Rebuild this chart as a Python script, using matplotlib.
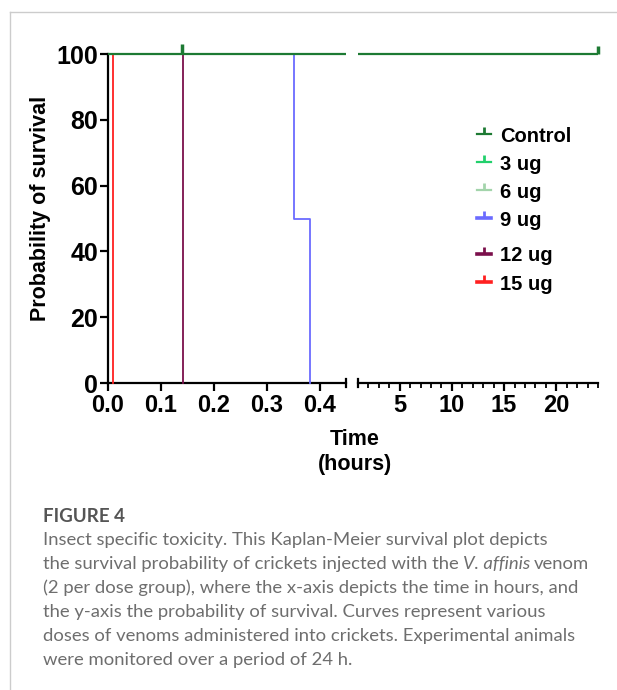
import matplotlib
matplotlib.use("Agg")
import matplotlib.pyplot as plt
from matplotlib.lines import Line2D

W, H = 617, 690

groups = ["Control", "3 ug", "6 ug", "9 ug", "12 ug", "15 ug"]
colors = ["#1d7a33", "#22d06c", "#a3d4ab", "#6b6bff", "#7b0f4b", "#ff2020"]

# Kaplan-Meier steps: time (hours) and survival (%)
t_control = [0, 24]
s_control = [100, 100]
t_3ug = [0, 24]
s_3ug = [100, 100]
t_6ug = [0, 24]
s_6ug = [100, 100]
t_9ug = [0, 0.352, 0.382]
s_9ug = [100, 50, 0]
t_12ug = [0, 0.141]
s_12ug = [100, 0]
t_15ug = [0, 0.01]
s_15ug = [100, 0]
censor_control = [0.14, 24]

y_ticks = [0, 20, 40, 60, 80, 100]
left_ticks = [0, 0.1, 0.2, 0.3, 0.4]
right_ticks = [5, 10, 15, 20]

curves = [(t_control, s_control), (t_3ug, s_3ug), (t_6ug, s_6ug),
          (t_9ug, s_9ug), (t_12ug, s_12ug), (t_15ug, s_15ug)]

plt.rcParams["font.family"] = ["Liberation Sans", "DejaVu Sans"]
plt.rcParams["font.weight"] = "bold"

fig = plt.figure(figsize=(W / 100, H / 100), dpi=100)


def px(x0, y_top, x1, y_bot):
    return [x0 / W, 1 - y_bot / H, (x1 - x0) / W, (y_bot - y_top) / H]


# y: 0 -> 383 px, 100 -> 54 px, ylim (-1, 102)
unit = (383 - 54) / 100
ax_top = 54 - 2 * unit
ax_bot = 383 + 1 * unit
axl = fig.add_axes(px(108, ax_top, 346, ax_bot))
axr = fig.add_axes(px(358, ax_top, 598, ax_bot))

for ax, xlim in [(axl, (0, 0.45)), (axr, (1, 24))]:
    ax.set_xlim(*xlim)
    ax.set_ylim(-1, 102)
    ax.patch.set_visible(False)
    for s in ["top", "right"]:
        ax.spines[s].set_visible(False)
    ax.spines["bottom"].set_position(("data", 0))
    ax.spines["bottom"].set_linewidth(1.6)
    ax.spines["bottom"].set_bounds(*xlim)
    # draw curves, control last so it sits on top
    for i in reversed(range(len(groups))):
        t, s = curves[i]
        ax.step(t, s, where="post", color=colors[i],
                lw=1.6 if i == 0 else 1.3, zorder=3 + (6 - i) * 0.1)
    ax.tick_params(axis="x", which="major", length=6, width=1.6,
                   labelsize=17, pad=2)
    ax.tick_params(axis="x", which="minor", length=3.5, width=1.3)

axl.spines["left"].set_bounds(0, 100)
axl.spines["left"].set_linewidth(1.6)
axl.set_yticks(y_ticks)
axl.tick_params(axis="y", length=6, width=1.6, labelsize=18, pad=1)
axl.set_xticks(left_ticks)
axl.set_xticklabels([f"{v:.1f}" for v in left_ticks])

axr.spines["left"].set_visible(False)
axr.set_yticks([])
axr.set_xticks(right_ticks)
axr.set_xticks(range(1, 25), minor=True)

# censor marks for control
axl.plot([c for c in censor_control if c <= 0.45], [100], ls="none",
         marker=2, ms=7, mew=2.5, color=colors[0], clip_on=False, zorder=5)
axr.plot([c for c in censor_control if c >= 1], [100], ls="none",
         marker=2, ms=6, mew=2.5, color=colors[0], clip_on=False, zorder=5)

# segment end caps on the broken x axis
cap_y = [1 / 103 - 4 / (ax_bot - ax_top), 1 / 103 + 4 / (ax_bot - ax_top)]
axl.plot([0.45, 0.45], cap_y, color="black", lw=1.6,
         transform=axl.get_xaxis_transform(), clip_on=False)
axr.plot([1, 1], cap_y, color="black", lw=1.6,
         transform=axr.get_xaxis_transform(), clip_on=False)

fig.text(41 / W, 1 - 208 / H, "Probability of survival", rotation=90,
         ha="center", va="center", fontsize=15.5, fontweight="bold")
fig.text(355 / W, 1 - 452 / H, "Time\n(hours)", ha="center", va="center",
         fontsize=15.5, fontweight="bold", linespacing=1.2)

# legend drawn by hand
leg_y = [134, 162, 190, 218, 254, 282]
for i, g in enumerate(groups):
    yy = 1 - leg_y[i] / H
    lw = 1.6 if i < 3 else 2.6
    fig.add_artist(Line2D([477 / W, 491 / W], [yy, yy], color=colors[i], lw=lw))
    fig.add_artist(Line2D([484 / W], [yy], marker=2, ms=5, mew=2,
                          color=colors[i]))
    fig.text(500 / W, yy, g, ha="left", va="center_baseline", fontsize=14.5,
             fontweight="bold")

# page frame
fig.add_artist(Line2D([10 / W, 10 / W], [0, 1 - 12 / H], color="#cccccc", lw=1))
fig.add_artist(Line2D([10 / W, 1], [1 - 12 / H, 1 - 12 / H], color="#cccccc", lw=1))

# caption
cap_font = ["Lato", "DejaVu Sans"]
fig.text(43 / W, 1 - 517 / H, "FIGURE 4", ha="left", va="center",
         fontsize=13.5, color="#555555", family=cap_font, fontweight="bold")
cap_lines = [
    "Insect specific toxicity. This Kaplan-Meier survival plot depicts",
    None,
    "(2 per dose group), where the x-axis depicts the time in hours, and",
    "the y-axis the probability of survival. Curves represent various",
    "doses of venoms administered into crickets. Experimental animals",
    "were monitored over a period of 24 h.",
]
cap_y0 = 540
cap_step = 24.1
cap_kw = dict(ha="left", va="center", fontsize=13.3, color="#6e6e6e",
              family=cap_font, fontweight="normal")
renderer = fig.canvas.get_renderer()
for k, line in enumerate(cap_lines):
    yy = 1 - (cap_y0 + k * cap_step) / H
    if line is not None:
        fig.text(43 / W, yy, line, **cap_kw)
        continue
    x = 43 / W
    for piece, style in [("the survival probability of crickets injected with the", "normal"),
                         ("V. affinis", "italic"), ("venom", "normal")]:
        t = fig.text(x, yy, piece, style=style, **cap_kw)
        bb = t.get_window_extent(renderer)
        x = (bb.x1 + 4) / W

fig.savefig("out.png", dpi=100)
